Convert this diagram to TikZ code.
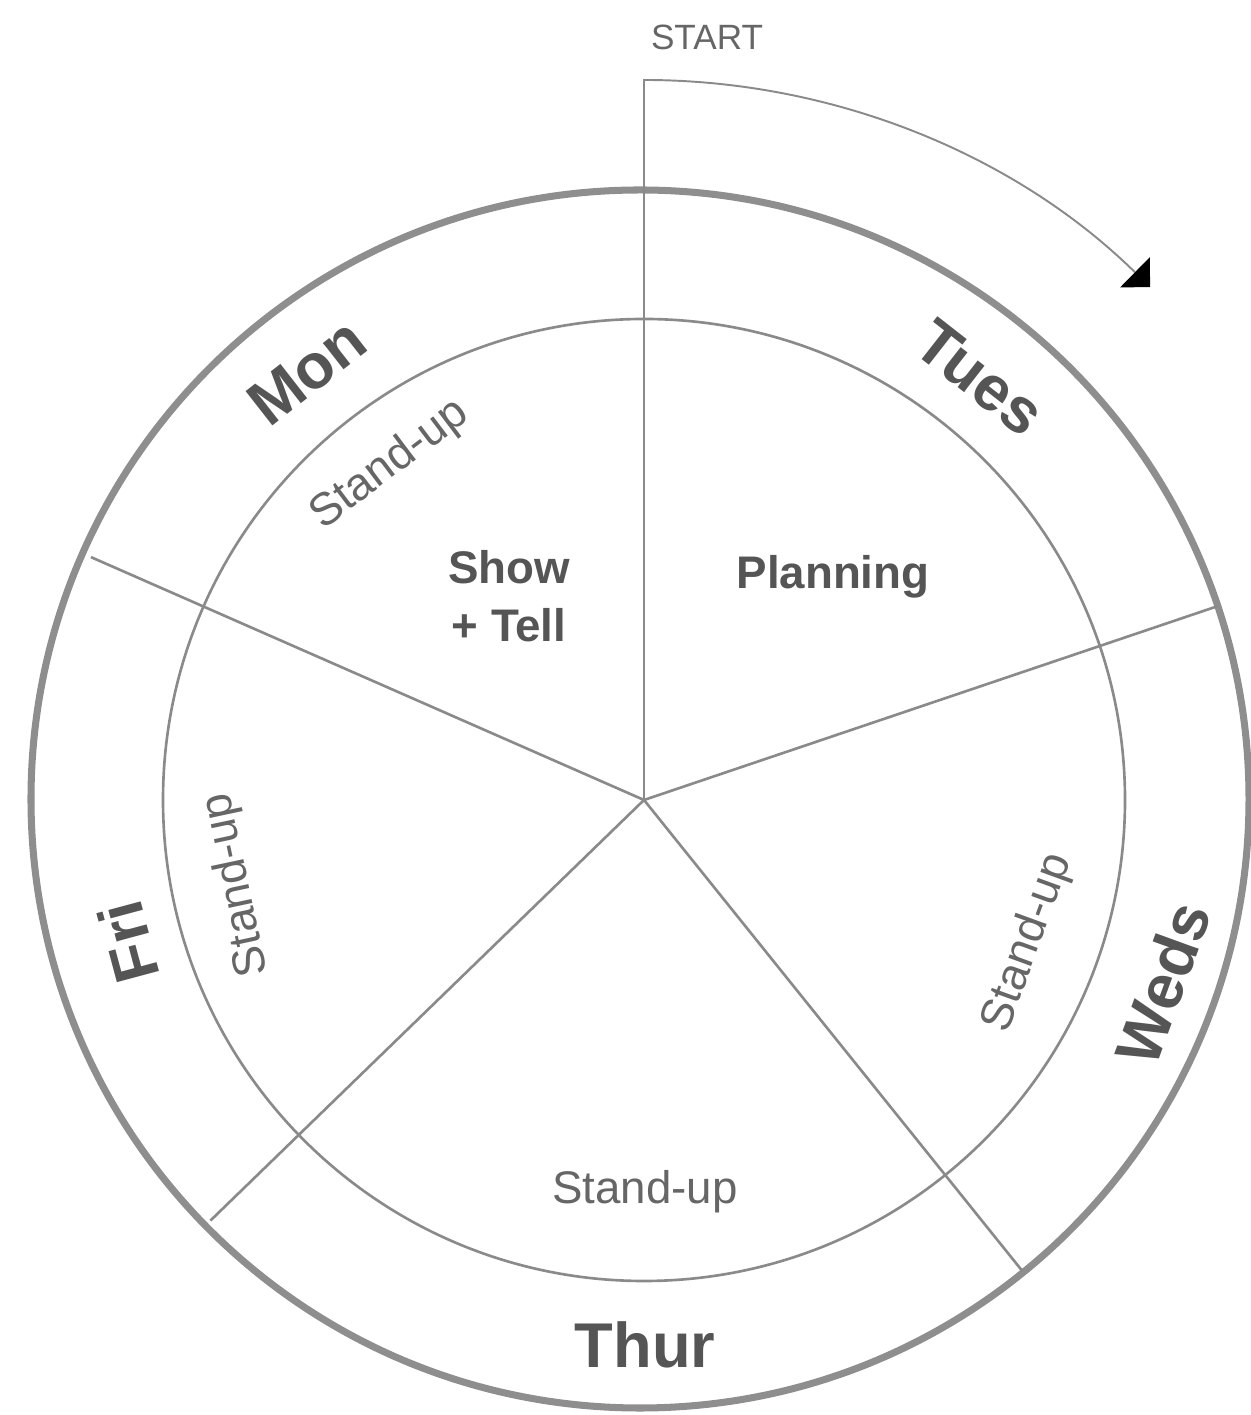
\documentclass[tikz,border=0pt]{standalone}
\usepackage{fontspec}
\setmainfont{Liberation Sans}
\usetikzlibrary{arrows.meta}
\definecolor{ringgray}{HTML}{8E8E8E}
\definecolor{linegray}{HTML}{8A8A8A}
\definecolor{textgray}{HTML}{555555}
\definecolor{softtext}{HTML}{666666}
\begin{document}
\begin{tikzpicture}[x=0.02cm,y=0.02cm,
  ring/.style={draw=ringgray, line width=4pt},
  spoke/.style={draw=linegray, line width=1.5pt},
  startline/.style={draw=linegray, line width=1.1pt},
  day/.style={text=textgray, font=\fontsize{36}{40}\selectfont\bfseries, inner sep=0pt},
  standup/.style={text=softtext, font=\fontsize{26}{30}\selectfont, inner sep=0pt},
  activity/.style={text=textgray, font=\fontsize{26}{33}\selectfont\bfseries, align=center, inner sep=0pt},
]
\useasboundingbox (0,0) rectangle (1250,1415);
\coordinate (c) at (644,615);
\coordinate (oc) at (640,616);
\coordinate (top) at (644,1335);
% rings
\draw[ring] (oc) circle[radius=609];
\draw[spoke] (c) circle[radius=481];
% spokes
\draw[spoke] (c) -- ++(90:606);
\draw[spoke] (c) -- ++(18.67:606);
\draw[spoke] (c) -- ++(156.29:604);
\draw[spoke] (c) -- ++(224.13:604);
\draw[spoke] (c) -- ++(308.77:605);
% start arrow
\draw[startline, -{Triangle[length=12pt,width=24pt,color=black,fill=black]}] (c) -- (top) arc[start angle=90, end angle=45.5, radius=722];
\node[text=softtext, font=\fontsize{20}{24}\selectfont, inner sep=0pt] (start) at (707,1378) {START};
% days
\node[day, rotate=38] (mon) at (307,1043) {Mon};
\node[day, rotate=-38] (tues) at (980,1037) {Tues};
\node[day, rotate=70] (weds) at (1163,432) {Weds};
\node[day] (thur) at (645,70) {Thur};
\node[day, rotate=105] (fri) at (128,473) {Fri};
% stand-ups
\node[standup, rotate=37] (su1) at (390,950) {Stand-up};
\node[standup, rotate=70] (su3) at (1028,472) {Stand-up};
\node[standup] (su4) at (645,223) {Stand-up};
\node[standup, rotate=102] (su5) at (237,530) {Stand-up};
% activities
\node[activity] (show) at (509,819) {Show\\+ Tell};
\node[activity] (plan) at (833,838) {Planning};
\end{tikzpicture}
\end{document}
